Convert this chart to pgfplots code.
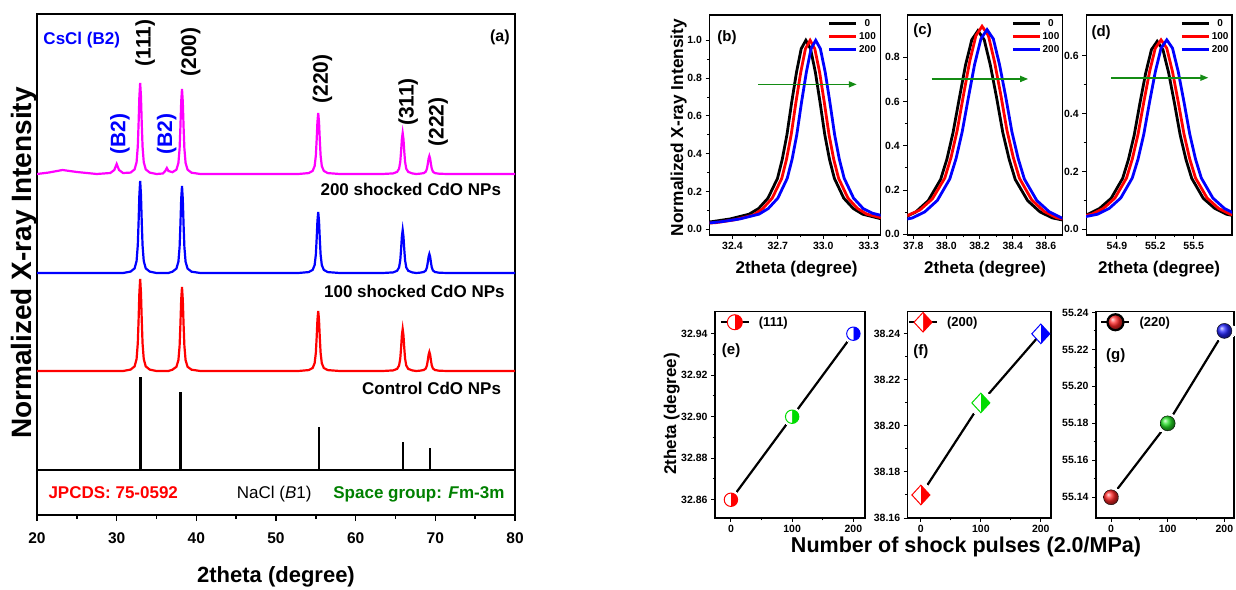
\documentclass[border=0pt]{standalone}
\usepackage{pgfplots}
\pgfplotsset{compat=1.18}
\usepackage{pgfplotstable}
\usepackage{fontspec}
\setmainfont{Liberation Sans}
\usetikzlibrary{arrows.meta,plotmarks}
\definecolor{mag}{RGB}{255,0,255}
\definecolor{myblue}{RGB}{0,0,255}
\definecolor{myred}{RGB}{255,0,0}
\definecolor{mygreen}{RGB}{0,128,0}
\definecolor{arrgreen}{RGB}{20,140,20}
\definecolor{brgreen}{RGB}{0,220,0}
\newcommand{\fs}[1]{\fontsize{#1}{#1}\selectfont\bfseries}
\pgfplotsset{/pgf/number format/assume math mode=true}
\pgfplotsset{rp/.style={scale only axis, anchor=south west, tick pos=left, tick align=outside,
  axis line style={line width=1.2pt}, major tick length=4pt, minor tick length=2.5pt,
  tick style={line width=1pt, black}, ticklabel style={font=\fs{10.5}}, scaled ticks=false,
  minor x tick num=1, minor y tick num=1}}
\pgfplotsset{toprow/.style={rp, width=#1, height=220pt,
  xticklabel style={/pgf/number format/.cd,fixed,fixed zerofill,precision=1},
  yticklabel style={/pgf/number format/.cd,fixed,fixed zerofill,precision=1},
  legend image code/.code={\draw[##1] (0pt,0pt) -- (27pt,0pt);},
  legend style={anchor=north west, draw=none, fill=none, font=\fs{10}, inner sep=0pt, row sep=0pt,
    nodes={inner sep=1.5pt, text height=8pt, text depth=2pt}}}}
\pgfplotsset{botrow/.style={rp, width=#1, height=206.5pt,
  xticklabel style={/pgf/number format/.cd,fixed,precision=0},
  yticklabel style={/pgf/number format/.cd,fixed,fixed zerofill,precision=2},
  xtick={0,100,200},
  legend image code/.code={\path (0pt,0pt) (35pt,0pt);\draw[mark repeat=2,mark phase=2,##1] plot coordinates {(0pt,0pt) (14pt,0pt) (28pt,0pt)};},
  legend style={anchor=west, draw=none, fill=none, font=\fs{13}, inner sep=0pt,
    nodes={inner sep=2pt}}}}
\pgfplotsset{halo/.style={only marks, mark=*, mark size=#1, mark options={draw=white, fill=white, line width=0pt}, forget plot}}

\pgfplotstableread{
x r b m
20 144 242 341
21.5 144 242 342.5
23.2 144 242 345
25 144 242 343
27.5 144 242 341
29.2 144 242 342
29.7 144 242 345
30.0 144 242 351
30.3 144 242 345
30.8 144 242 342
31.75 145.4 243.4 342.4
32.25 148.6 246.6 345.6
32.5 156.0 254.0 352.8
32.65 171.6 269.6 368.3
32.75 194.6 292.6 391.1
32.85 222.2 320.2 418.4
32.95 236 334 432
33.05 222.2 320.2 418.4
33.15 194.6 292.6 391.1
33.25 171.6 269.6 368.3
33.4 156.0 254.0 352.8
33.65 148.6 246.6 345.6
34.15 145.4 243.4 342.4
35.0 144 242 341
35.8 144 242 341.5
36.1 144 242 344
36.3 144 242 347
36.5 144 242 344
37.0 145.3 243.3 342.8
37.5 148.2 246.4 345.3
37.75 154.9 253.3 352.1
37.9 169.2 268.1 366.5
38.0 190.2 289.9 387.8
38.1 215.4 316.0 413.3
38.2 228 329 426
38.3 215.4 316.0 413.3
38.4 190.2 289.9 387.8
38.5 169.2 268.1 366.5
38.65 154.9 253.3 352.1
38.9 148.2 246.4 345.3
39.4 145.3 243.3 342.3
40.5 144 242 341
52.8 144 242 341
54.1 144.9 242.9 341.9
54.6 147 245.1 344.1
54.85 151.8 249.9 348.9
55.0 162 260.3 359.3
55.1 177 275.6 374.6
55.2 195 293.9 392.9
55.3 204 303 402
55.4 195 293.9 392.9
55.5 177 275.6 374.6
55.6 162 260.3 359.3
55.75 151.8 249.9 348.9
56.0 147 245.1 344.1
56.5 144.9 242.9 341.9
58 144 242 341
63.4 144 242 341
64.7 144.6 242.6 341.6
65.2 146.1 244.2 343.1
65.45 149.5 247.6 346.3
65.6 156.6 254.9 353.3
65.7 167.1 265.7 363.6
65.8 179.7 278.6 375.9
65.9 186 285 382
66.0 179.7 278.6 375.9
66.1 167.1 265.7 363.6
66.2 156.6 254.9 353.3
66.35 149.5 247.6 346.3
66.6 146.1 244.2 343.1
67.1 144.6 242.6 341.6
67.6 144 242 341
68.05 144.3 242.3 341.3
68.55 145 243 341.9
68.8 146.5 244.5 343.3
68.95 149.7 247.7 346.4
69.05 154.5 252.5 350.9
69.15 160.2 258.2 356.3
69.25 163 261 359
69.35 160.2 258.2 356.3
69.45 154.5 252.5 350.9
69.55 149.7 247.7 346.4
69.7 146.5 244.5 343.3
69.95 145 243 341.9
70.45 144.3 242.3 341.3
71.5 144 242 341
80 144 242 341
}\xrd

\begin{document}
\begin{tikzpicture}
\useasboundingbox (0,0) rectangle (1236pt,589pt);

% ---------------- panel (a)
\begin{axis}[at={(37pt,74pt)}, anchor=south west, scale only axis, width=478pt, height=501pt,
  xmin=20, xmax=80, ymin=0, ymax=501, axis line style={line width=1.6pt},
  xtick={20,30,...,80}, minor x tick num=1, tick pos=left, ytick=\empty, tick align=outside,
  major tick length=6pt, minor tick length=4pt, tick style={line width=1.4pt, black},
  ticklabel style={font=\fs{15.5}}, xticklabel style={yshift=-8pt}]
\addplot[black, line width=2.4pt] coordinates {(33.0,45) (33.0,138)};
\addplot[black, line width=2.4pt] coordinates {(38.0,45) (38.0,123)};
\addplot[black, line width=2.4pt] coordinates {(55.38,45) (55.38,88)};
\addplot[black, line width=2.4pt] coordinates {(65.95,45) (65.95,73)};
\addplot[black, line width=2.4pt] coordinates {(69.3,45) (69.3,67)};
\addplot[myred, line width=2.2pt] table[x=x, y=r] {\xrd};
\addplot[myblue, line width=2.2pt] table[x=x, y=b] {\xrd};
\addplot[mag, line width=2.2pt] table[x=x, y=m] {\xrd};
\draw[line width=1.6pt] (axis cs:20,45) -- (axis cs:80,45);
\node[anchor=base west, font=\fs{17}, text=myblue, inner sep=0pt] at (axis cs:20.79,470) {CsCl (B2)};
\node[anchor=base east, font=\fs{16}, inner sep=0pt] at (axis cs:79.35,473) {(a)};
\node[rotate=90, font=\fs{21}, inner sep=0pt] at (axis cs:33.57,472) {(111)};
\node[rotate=90, font=\fs{21}, inner sep=0pt] at (axis cs:39.29,463) {(200)};
\node[rotate=90, font=\fs{21}, inner sep=0pt] at (axis cs:55.82,436) {(220)};
\node[rotate=90, font=\fs{21}, inner sep=0pt] at (axis cs:66.59,413) {(311)};
\node[rotate=90, font=\fs{21}, inner sep=0pt] at (axis cs:70.35,393) {(222)};
\node[rotate=90, font=\fs{21}, inner sep=0pt, text=myblue] at (axis cs:30.41,381) {(B2)};
\node[rotate=90, font=\fs{21}, inner sep=0pt, text=myblue] at (axis cs:36.27,381) {(B2)};
\node[anchor=base east, font=\fs{17}, inner sep=0pt] at (axis cs:78.27,319) {200 shocked CdO NPs};
\node[anchor=base east, font=\fs{17}, inner sep=0pt] at (axis cs:78.72,217) {100 shocked CdO NPs};
\node[anchor=base east, font=\fs{17}, inner sep=0pt] at (axis cs:78.27,120) {Control CdO NPs};
\node[anchor=base west, font=\fs{17}, text=myred, inner sep=0pt] at (axis cs:21.42,16.7) {JPCDS: 75-0592};
\node[anchor=base west, font=\fontsize{17}{17}\selectfont, inner sep=0pt] at (axis cs:45.06,16.7) {NaCl (\textit{B}1)};
\node[anchor=base west, font=\fs{17}, text=mygreen, inner sep=0pt] at (axis cs:57.18,16.7) {Space group: \textit{F}m-3m};
\end{axis}

% ---------------- panel (b)
\begin{axis}[toprow=171.2pt, at={(709.5pt,354pt)},
  xmin=32.249, xmax=33.379, ymin=-0.030, ymax=1.134,
  xtick={32.4,32.7,33.0,33.3}, ytick={0,0.2,0.4,0.6,0.8,1.0},
  legend style={at={(axis description cs:0.69,0.99)}}]
\addplot[black, line width=2.8pt] coordinates {(32.135,.03)(32.26,.04)(32.385,.055)(32.51,.08)(32.573,.11)(32.635,.165)(32.698,.27)(32.729,.37)(32.76,.5)(32.791,.67)(32.823,.83)(32.854,.955)(32.885,1)(32.916,.955)(32.948,.83)(32.979,.67)(33.01,.5)(33.041,.37)(33.073,.27)(33.135,.165)(33.198,.11)(33.26,.08)(33.385,.055)(33.51,.04)(33.635,.03)};
\addlegendentry{0}
\addplot[myred, line width=2.8pt] coordinates {(32.163,.03)(32.288,.035)(32.413,.05)(32.538,.075)(32.601,.11)(32.663,.165)(32.726,.27)(32.757,.37)(32.788,.5)(32.819,.67)(32.851,.83)(32.882,.955)(32.913,1)(32.944,.955)(32.976,.83)(33.007,.67)(33.038,.5)(33.069,.37)(33.101,.27)(33.163,.165)(33.226,.11)(33.288,.08)(33.413,.055)(33.538,.04)(33.663,.03)};
\addlegendentry{100}
\addplot[myblue, line width=2.8pt] coordinates {(32.2,.03)(32.325,.04)(32.45,.055)(32.575,.08)(32.637,.11)(32.7,.165)(32.762,.27)(32.794,.37)(32.825,.5)(32.856,.67)(32.888,.83)(32.919,.955)(32.95,1)(32.981,.955)(33.013,.83)(33.044,.67)(33.075,.5)(33.106,.37)(33.138,.27)(33.2,.165)(33.263,.11)(33.325,.085)(33.45,.06)(33.575,.045)(33.7,.035)};
\addlegendentry{200}
\draw[arrgreen, line width=1.6pt, -{Triangle[length=8pt,width=6pt]}] (axis cs:32.571,0.767) -- (axis cs:33.221,0.767);
\node[anchor=base west, font=\fs{15}, inner sep=0pt] at (axis cs:32.30,0.995) {(b)};
\end{axis}

% ---------------- panel (c)
\begin{axis}[toprow=155pt, at={(907.3pt,354pt)},
  xmin=37.764, xmax=38.699, ymin=-0.003, ymax=0.991,
  xtick={37.8,38.0,38.2,38.4,38.6}, ytick={0,0.2,0.4,0.6,0.8},
  legend style={at={(axis description cs:0.67,0.99)}}]
\addplot[black, line width=2.8pt] coordinates {(37.29,.028)(37.44,.037)(37.59,.051)(37.74,.074)(37.815,.101)(37.89,.152)(37.965,.248)(38.003,.340)(38.04,.46)(38.078,.616)(38.115,.764)(38.153,.879)(38.19,.92)(38.228,.879)(38.265,.764)(38.303,.616)(38.34,.46)(38.378,.340)(38.415,.248)(38.49,.152)(38.565,.101)(38.64,.074)(38.79,.051)(38.94,.037)(39.09,.028)};
\addlegendentry{0}
\addplot[myred, line width=2.8pt] coordinates {(37.315,.028)(37.465,.038)(37.615,.052)(37.765,.085)(37.84,.11)(37.915,.16)(37.99,.254)(38.028,.348)(38.065,.47)(38.103,.63)(38.14,.78)(38.178,.898)(38.215,.94)(38.253,.898)(38.29,.78)(38.328,.63)(38.365,.47)(38.403,.348)(38.44,.254)(38.515,.155)(38.59,.103)(38.665,.075)(38.815,.052)(38.965,.038)(39.115,.028)};
\addlegendentry{100}
\addplot[myblue, line width=2.8pt] coordinates {(37.345,.028)(37.495,.037)(37.645,.051)(37.795,.074)(37.87,.102)(37.945,.153)(38.02,.25)(38.058,.342)(38.095,.463)(38.133,.62)(38.17,.768)(38.208,.883)(38.245,.925)(38.283,.883)(38.32,.768)(38.358,.62)(38.395,.463)(38.433,.342)(38.47,.25)(38.545,.153)(38.62,.102)(38.695,.074)(38.845,.051)(38.995,.037)(39.145,.028)};
\addlegendentry{200}
\draw[arrgreen, line width=1.6pt, -{Triangle[length=8pt,width=6pt]}] (axis cs:37.911,0.702) -- (axis cs:38.493,0.702);
\node[anchor=base west, font=\fs{15}, inner sep=0pt] at (axis cs:37.80,0.905) {(c)};
\end{axis}

% ---------------- panel (d)
\begin{axis}[toprow=145.8pt, at={(1086.2pt,354pt)},
  xmin=54.66, xmax=55.80, ymin=-0.020, ymax=0.741,
  xtick={54.9,55.2,55.5}, ytick={0,0.2,0.4,0.6},
  legend style={at={(axis description cs:0.645,0.99)}}]
\addplot[black, line width=2.8pt] coordinates {(54.135,.02)(54.315,.026)(54.495,.036)(54.675,.052)(54.765,.072)(54.855,.107)(54.945,.176)(54.99,.241)(55.035,.325)(55.08,.436)(55.125,.54)(55.17,.621)(55.215,.65)(55.26,.621)(55.305,.54)(55.35,.436)(55.395,.325)(55.44,.241)(55.485,.176)(55.575,.107)(55.665,.072)(55.755,.052)(55.935,.036)(56.115,.026)(56.295,.02)};
\addlegendentry{0}
\addplot[myred, line width=2.8pt] coordinates {(54.165,.02)(54.345,.026)(54.525,.036)(54.705,.052)(54.795,.072)(54.885,.108)(54.975,.177)(55.02,.242)(55.065,.328)(55.11,.439)(55.155,.544)(55.2,.626)(55.245,.655)(55.29,.626)(55.335,.544)(55.38,.439)(55.425,.328)(55.47,.242)(55.515,.177)(55.605,.108)(55.695,.072)(55.785,.052)(55.965,.036)(56.145,.026)(56.325,.02)};
\addlegendentry{100}
\addplot[myblue, line width=2.8pt] coordinates {(54.21,.02)(54.39,.026)(54.57,.036)(54.75,.052)(54.84,.072)(54.93,.108)(55.02,.177)(55.065,.242)(55.11,.328)(55.155,.439)(55.2,.544)(55.245,.626)(55.29,.655)(55.335,.626)(55.38,.544)(55.425,.439)(55.47,.328)(55.515,.242)(55.56,.177)(55.65,.108)(55.74,.072)(55.83,.052)(56.01,.036)(56.19,.026)(56.37,.02)};
\addlegendentry{200}
\draw[arrgreen, line width=1.6pt, -{Triangle[length=8pt,width=6pt]}] (axis cs:54.854,0.524) -- (axis cs:55.615,0.524);
\node[anchor=base west, font=\fs{15}, inner sep=0pt] at (axis cs:54.70,0.665) {(d)};
\end{axis}

% ---------------- panel (e)
\begin{axis}[botrow=150pt, at={(715pt,71pt)},
  xmin=-26, xmax=219, ymin=32.8512, ymax=32.9507,
  ytick={32.86,32.88,32.90,32.92,32.94},
  legend style={at={(axis description cs:0.03,0.948)}}]
\addlegendimage{black, line width=2.2pt, mark=halfcircle*, mark size=7.5pt, mark options={draw=myred, fill=myred, rotate=-90, line width=1pt}}
\addlegendentry{(111)}
\addplot[black, line width=2.2pt, forget plot] coordinates {(0,32.86) (100,32.90) (200,32.94)};
\addplot[halo=9.5pt] coordinates {(0,32.86) (100,32.90) (200,32.94)};
\addplot[only marks, mark=halfcircle*, mark size=6.7pt, mark options={draw=myred, fill=myred, rotate=-90, line width=1pt}, forget plot] coordinates {(0,32.86)};
\addplot[only marks, mark=halfcircle*, mark size=6.7pt, mark options={draw=brgreen, fill=brgreen, rotate=-90, line width=1pt}, forget plot] coordinates {(100,32.90)};
\addplot[only marks, mark=halfcircle*, mark size=6.7pt, mark options={draw=myblue, fill=myblue, rotate=-90, line width=1pt}, forget plot] coordinates {(200,32.94)};
\node[anchor=base west, font=\fs{15}, inner sep=0pt] at (axis cs:-15,32.9299) {(e)};
\end{axis}

% ---------------- panel (f)
\begin{axis}[botrow=143.3pt, at={(907.7pt,71pt)},
  xmin=-22, xmax=217, ymin=38.16, ymax=38.2497,
  ytick={38.16,38.18,38.20,38.22,38.24},
  legend style={at={(axis description cs:0.0,0.948)}}]
\addlegendimage{black, line width=2.2pt, mark=halfdiamond*, mark size=9pt, mark options={draw=myred, fill=myred, rotate=90, xscale=1.45, line width=1pt}}
\addlegendentry{(200)}
\addplot[black, line width=2.2pt, forget plot] coordinates {(0,38.17) (100,38.21) (200,38.24)};
\addplot[halo=12pt] coordinates {(0,38.17) (100,38.21)};
\addplot[only marks, mark=halfdiamond*, mark size=9pt, mark options={draw=myred, fill=myred, rotate=90, xscale=1.45, line width=1pt}, forget plot] coordinates {(0,38.17)};
\addplot[only marks, mark=halfdiamond*, mark size=9pt, mark options={draw=brgreen, fill=brgreen, rotate=90, xscale=1.45, line width=1pt}, forget plot] coordinates {(100,38.21)};
\addplot[only marks, mark=halfdiamond*, mark size=9pt, mark options={draw=myblue, fill=myblue, rotate=90, xscale=1.45, line width=1pt}, forget plot] coordinates {(200,38.24)};
\node[anchor=base west, font=\fs{15}, inner sep=0pt] at (axis cs:-13,38.2305) {(f)};
\end{axis}

% ---------------- panel (g)
\begin{axis}[botrow=138pt, at={(1096pt,71pt)},
  xmin=-26.5, xmax=217, ymin=55.1288, ymax=55.2405,
  ytick={55.14,55.16,55.18,55.20,55.22,55.24},
  legend style={at={(axis description cs:0.03,0.948)}}]
\addlegendimage{black, line width=2.2pt, mark=ball, mark size=8pt, mark options={ball color=myred!85!white, draw=none}}
\addlegendentry{(220)}
\addplot[black, line width=2.2pt, forget plot] coordinates {(0,55.14) (100,55.18) (200,55.23)};
\addplot[halo=10.5pt] coordinates {(0,55.14) (100,55.18) (200,55.23)};
\addplot[only marks, mark=ball, mark size=7.5pt, mark options={ball color=myred!85!white, draw=none}, forget plot] coordinates {(0,55.14)};
\addplot[only marks, mark=ball, mark size=7.5pt, mark options={ball color=brgreen!85!white, draw=none}, forget plot] coordinates {(100,55.18)};
\addplot[only marks, mark=ball, mark size=7.5pt, mark options={ball color=myblue!85!white, draw=none}, forget plot] coordinates {(200,55.23)};
\node[anchor=base west, font=\fs{15}, inner sep=0pt] at (axis cs:-9,55.2145) {(g)};
\end{axis}

% ---------------- outer labels
\node[rotate=90, anchor=base, font=\fs{28}, inner sep=0pt] at (32pt,326pt) {Normalized X-ray Intensity};
\node[anchor=base, font=\fs{22}, inner sep=0pt] at (276pt,6.2pt) {2theta (degree)};
\node[rotate=90, anchor=base, font=\fs{17.3}, inner sep=0pt] at (683pt,461.5pt) {Normalized X-ray Intensity};
\node[anchor=base, font=\fs{17}, inner sep=0pt] at (796.5pt,315pt) {2theta (degree)};
\node[anchor=base, font=\fs{17}, inner sep=0pt] at (985pt,315pt) {2theta (degree)};
\node[anchor=base, font=\fs{17}, inner sep=0pt] at (1159pt,315pt) {2theta (degree)};
\node[rotate=90, anchor=base, font=\fs{17}, inner sep=0pt] at (676pt,175pt) {2theta (degree)};
\node[anchor=base, font=\fs{21.5}, inner sep=0pt] at (966pt,36.8pt) {Number of shock pulses (2.0/MPa)};
\end{tikzpicture}
\end{document}
